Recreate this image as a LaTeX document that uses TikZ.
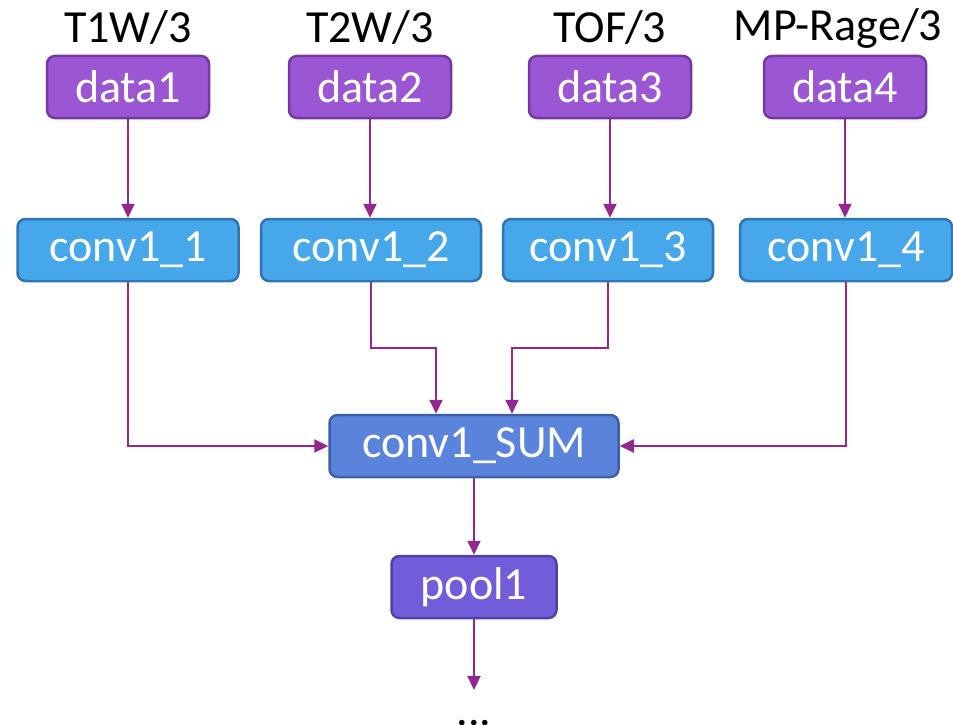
\documentclass[tikz,border=0pt]{standalone}
\usepackage{fontspec}
\setmainfont{Carlito}
\usetikzlibrary{arrows.meta}
\definecolor{datafill}{RGB}{155,86,211}
\definecolor{dataline}{RGB}{118,56,160}
\definecolor{convfill}{RGB}{70,167,235}
\definecolor{convline}{RGB}{47,117,181}
\definecolor{sumfill}{RGB}{90,132,219}
\definecolor{sumline}{RGB}{60,95,166}
\definecolor{poolfill}{RGB}{115,92,218}
\definecolor{poolline}{RGB}{82,64,168}
\definecolor{arrowcol}{RGB}{147,39,143}
\tikzset{
  box/.style={rounded corners=8pt, line width=2.5pt, minimum height=62pt, inner sep=0pt, text=white, font=\fontsize{46}{50}\selectfont},
  databox/.style={box, fill=datafill, draw=dataline, minimum width=162pt},
  convbox/.style={box, fill=convfill, draw=convline},
  sumbox/.style={box, fill=sumfill, draw=sumline, minimum width=289pt},
  poolbox/.style={box, fill=poolfill, draw=poolline, minimum width=165pt},
  lbl/.style={font=\fontsize{46}{50}\selectfont, text=black, inner sep=0pt},
  conn/.style={draw=arrowcol, line width=2pt, -{Triangle[width=13pt,length=14pt]}}
}
\begin{document}
\begin{tikzpicture}[x=1pt,y=-1pt]
\useasboundingbox (0,0) rectangle (953,725);
\node[lbl] (l1) at (128,28) {T1W/3};
\node[lbl] (l2) at (370,28) {T2W/3};
\node[lbl] (l3) at (610,28) {TOF/3};
\node[lbl] (l4) at (838,28) {MP-Rage/3};
\node[databox] (d1) at (128,87) {data1};
\node[databox] (d2) at (370,87) {data2};
\node[databox] (d3) at (610,87) {data3};
\node[databox] (d4) at (845,87) {data4};
\node[convbox, minimum width=221pt] (c1) at (128,250) {conv1\_1};
\node[convbox, minimum width=220pt] (c2) at (371,250) {conv1\_2};
\node[convbox, minimum width=210pt] (c3) at (608,250) {conv1\_3};
\node[convbox, minimum width=212pt] (c4) at (846,250) {conv1\_4};
\node[sumbox] (sum) at (474,446) {conv1\_SUM};
\node[poolbox] (pool) at (474,587) {pool1};
\coordinate (out) at (474,690);
\node[lbl, anchor=base] (dots) at (474,725) {...};
\draw[conn] (d1.south) -- (d1.south |- c1.north);
\draw[conn] (d2.south) -- (d2.south |- c2.north);
\draw[conn] (d3.south) -- (d3.south |- c3.north);
\draw[conn] (d4.south) -- (d4.south |- c4.north);
\draw[conn] (c1.south) |- (sum.west);
\draw[conn] (c4.south) |- (sum.east);
\draw[conn] (c2.south) -- ++(0,66) -| ([xshift=-38pt]sum.north);
\draw[conn] (c3.south) -- ++(0,66) -| ([xshift=38pt]sum.north);
\draw[conn] (sum.south) -- (pool.north);
\draw[conn] (pool.south) -- (out);
\end{tikzpicture}
\end{document}
